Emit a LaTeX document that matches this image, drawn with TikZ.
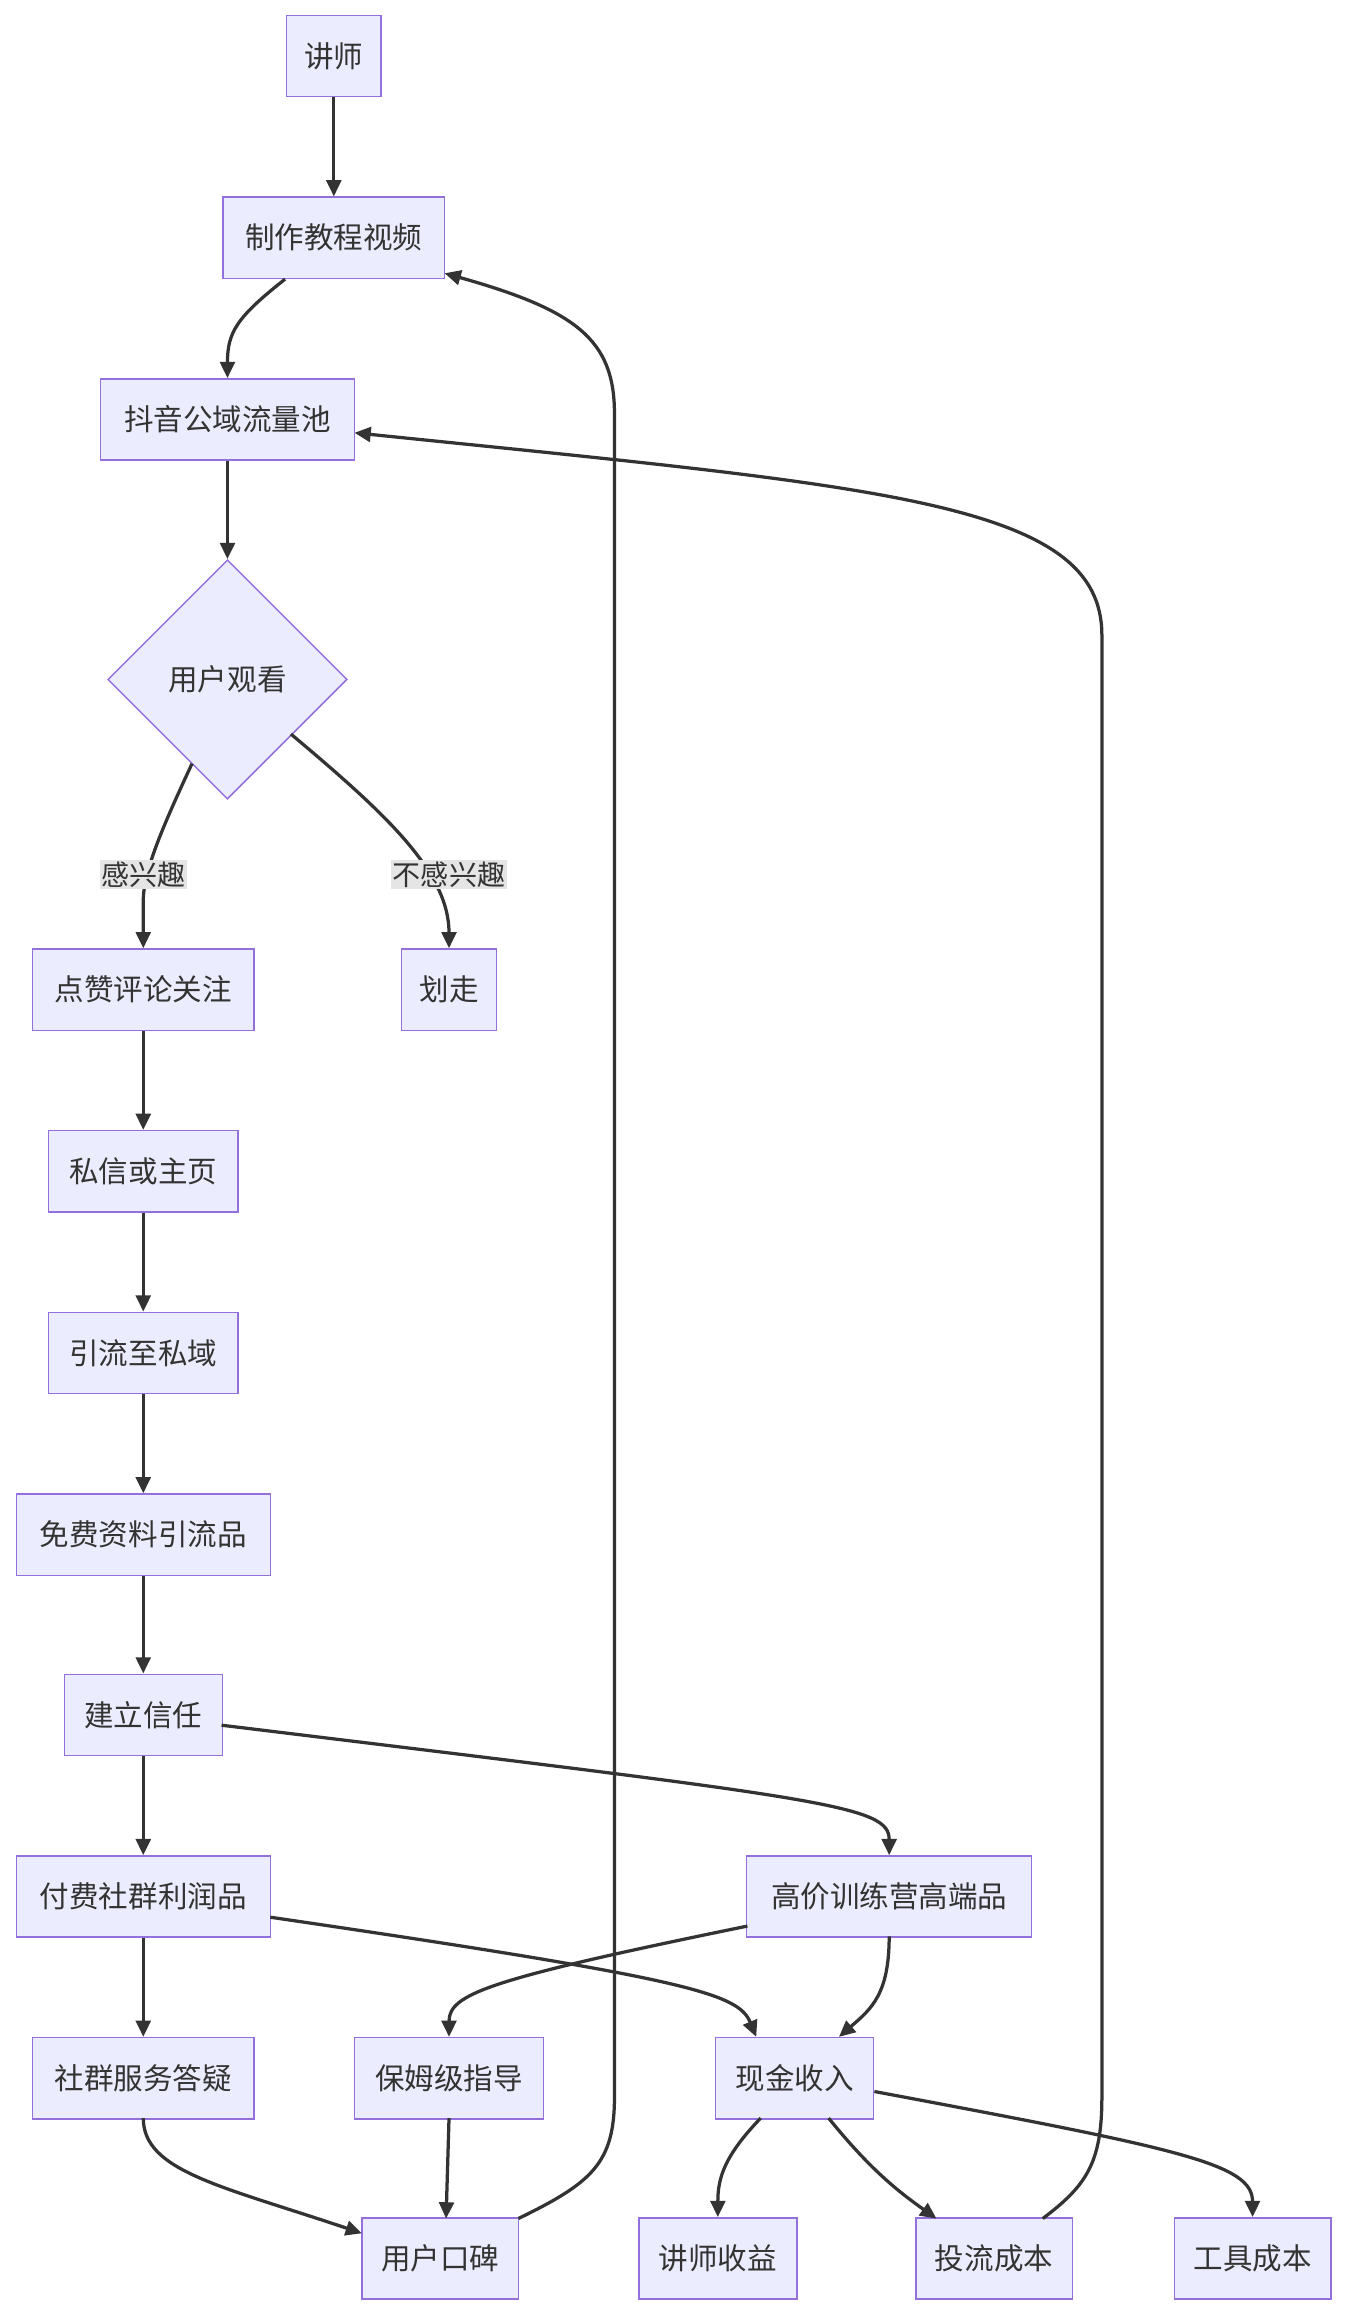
\documentclass[tikz,border=0pt]{standalone}
\usepackage{fontspec}
\newfontfamily\cjk{Noto Sans CJK SC}
\usetikzlibrary{arrows.meta,shapes.geometric}
\definecolor{nf}{HTML}{ECECFF}\definecolor{nb}{HTML}{9370DB}\definecolor{ln}{HTML}{333333}
\begin{document}
\begin{tikzpicture}[x=1pt,y=-1pt,
 box/.style={draw=nb,fill=nf,line width=1pt,minimum height=55pt,inner xsep=10pt,font=\cjk\fontsize{20}{24}\selectfont,text=ln},
 dia/.style={draw=nb,fill=nf,line width=1pt,diamond,minimum width=162pt,minimum height=162pt,inner sep=0pt,font=\cjk\fontsize{20}{24}\selectfont,text=ln},
 e/.style={draw=ln,line width=2.2pt,-{Triangle[length=11pt,width=10pt]}},
 lab/.style={fill=black!10,inner sep=1pt,font=\cjk\fontsize{19}{22}\selectfont,text=ln}]
\useasboundingbox (0,0) rectangle (912,1568);
\node[box,minimum width=64pt] (js) at (226,38) {讲师};
\node[box,minimum width=150pt] (zz) at (226,161) {制作教程视频};
\node[box,minimum width=172pt] (dy) at (154,284) {抖音公域流量池};
\node[dia] (gk) at (154,460) {用户观看};
\node[box,minimum width=150pt] (dz) at (97,670) {点赞评论关注};
\node[box,minimum width=64pt] (hz) at (304,670) {划走};
\node[box,minimum width=128pt] (sx) at (97,793) {私信或主页};
\node[box,minimum width=128pt] (yl) at (97,916) {引流至私域};
\node[box,minimum width=172pt] (mf) at (97,1039) {免费资料引流品};
\node[box,minimum width=107pt] (xr) at (97,1161) {建立信任};
\node[box,minimum width=172pt] (ff) at (97,1284) {付费社群利润品};
\node[box,minimum width=193pt] (gj) at (602,1284) {高价训练营高端品};
\node[box,minimum width=150pt] (fw) at (97,1407) {社群服务答疑};
\node[box,minimum width=128pt] (bm) at (304,1407) {保姆级指导};
\node[box,minimum width=107pt] (xj) at (538,1407) {现金收入};
\node[box,minimum width=106pt] (kb) at (298,1529) {用户口碑};
\node[box,minimum width=107pt] (sy) at (486,1529) {讲师收益};
\node[box,minimum width=106pt] (tl) at (673,1529) {投流成本};
\node[box,minimum width=106pt] (gc) at (848,1529) {工具成本};
\draw[e] (js) -- (zz);
\draw[e] (193,189) .. controls (160,215) and (154,225) .. (dy.north);
\draw[e] (dy) -- (gk);
\draw[e] (130,517) .. controls (110,560) and (97,590) .. (97,610) -- (dz.north);
\draw[e] (197,497) .. controls (260,550) and (304,590) .. (hz.north);
\node[lab] at (97,592) {感兴趣};
\node[lab] at (304,592) {不感兴趣};
\draw[e] (dz) -- (sx);
\draw[e] (sx) -- (yl);
\draw[e] (yl) -- (mf);
\draw[e] (mf) -- (xr);
\draw[e] (xr) -- (ff);
\draw[e] (ff) -- (fw);
\draw[e] (150,1168) .. controls (560,1218) and (602,1222) .. (gj.north);
\draw[e] (183,1298) .. controls (470,1340) and (500,1350) .. (512,1379);
\draw[e] (506,1304) .. controls (330,1340) and (304,1350) .. (bm.north);
\draw[e] (602,1311) .. controls (602,1350) and (590,1360) .. (568,1379);
\draw[e] (97,1434) .. controls (97,1470) and (150,1480) .. (245,1512);
\draw[e] (304,1434) -- (302,1502);
\draw[e] (351,1502) .. controls (400,1478) and (416,1465) .. (416,1420) -- (416,280) .. controls (416,230) and (390,210) .. (301,185);
\draw[e] (706,1502) .. controls (735,1480) and (746,1465) .. (746,1420) -- (746,430) .. controls (746,340) and (600,330) .. (240,293);
\draw[e] (515,1434) .. controls (490,1460) and (486,1475) .. (sy.north);
\draw[e] (561,1434) .. controls (590,1470) and (610,1485) .. (634,1502);
\draw[e] (592,1416) .. controls (800,1455) and (848,1465) .. (gc.north);
\end{tikzpicture}
\end{document}
